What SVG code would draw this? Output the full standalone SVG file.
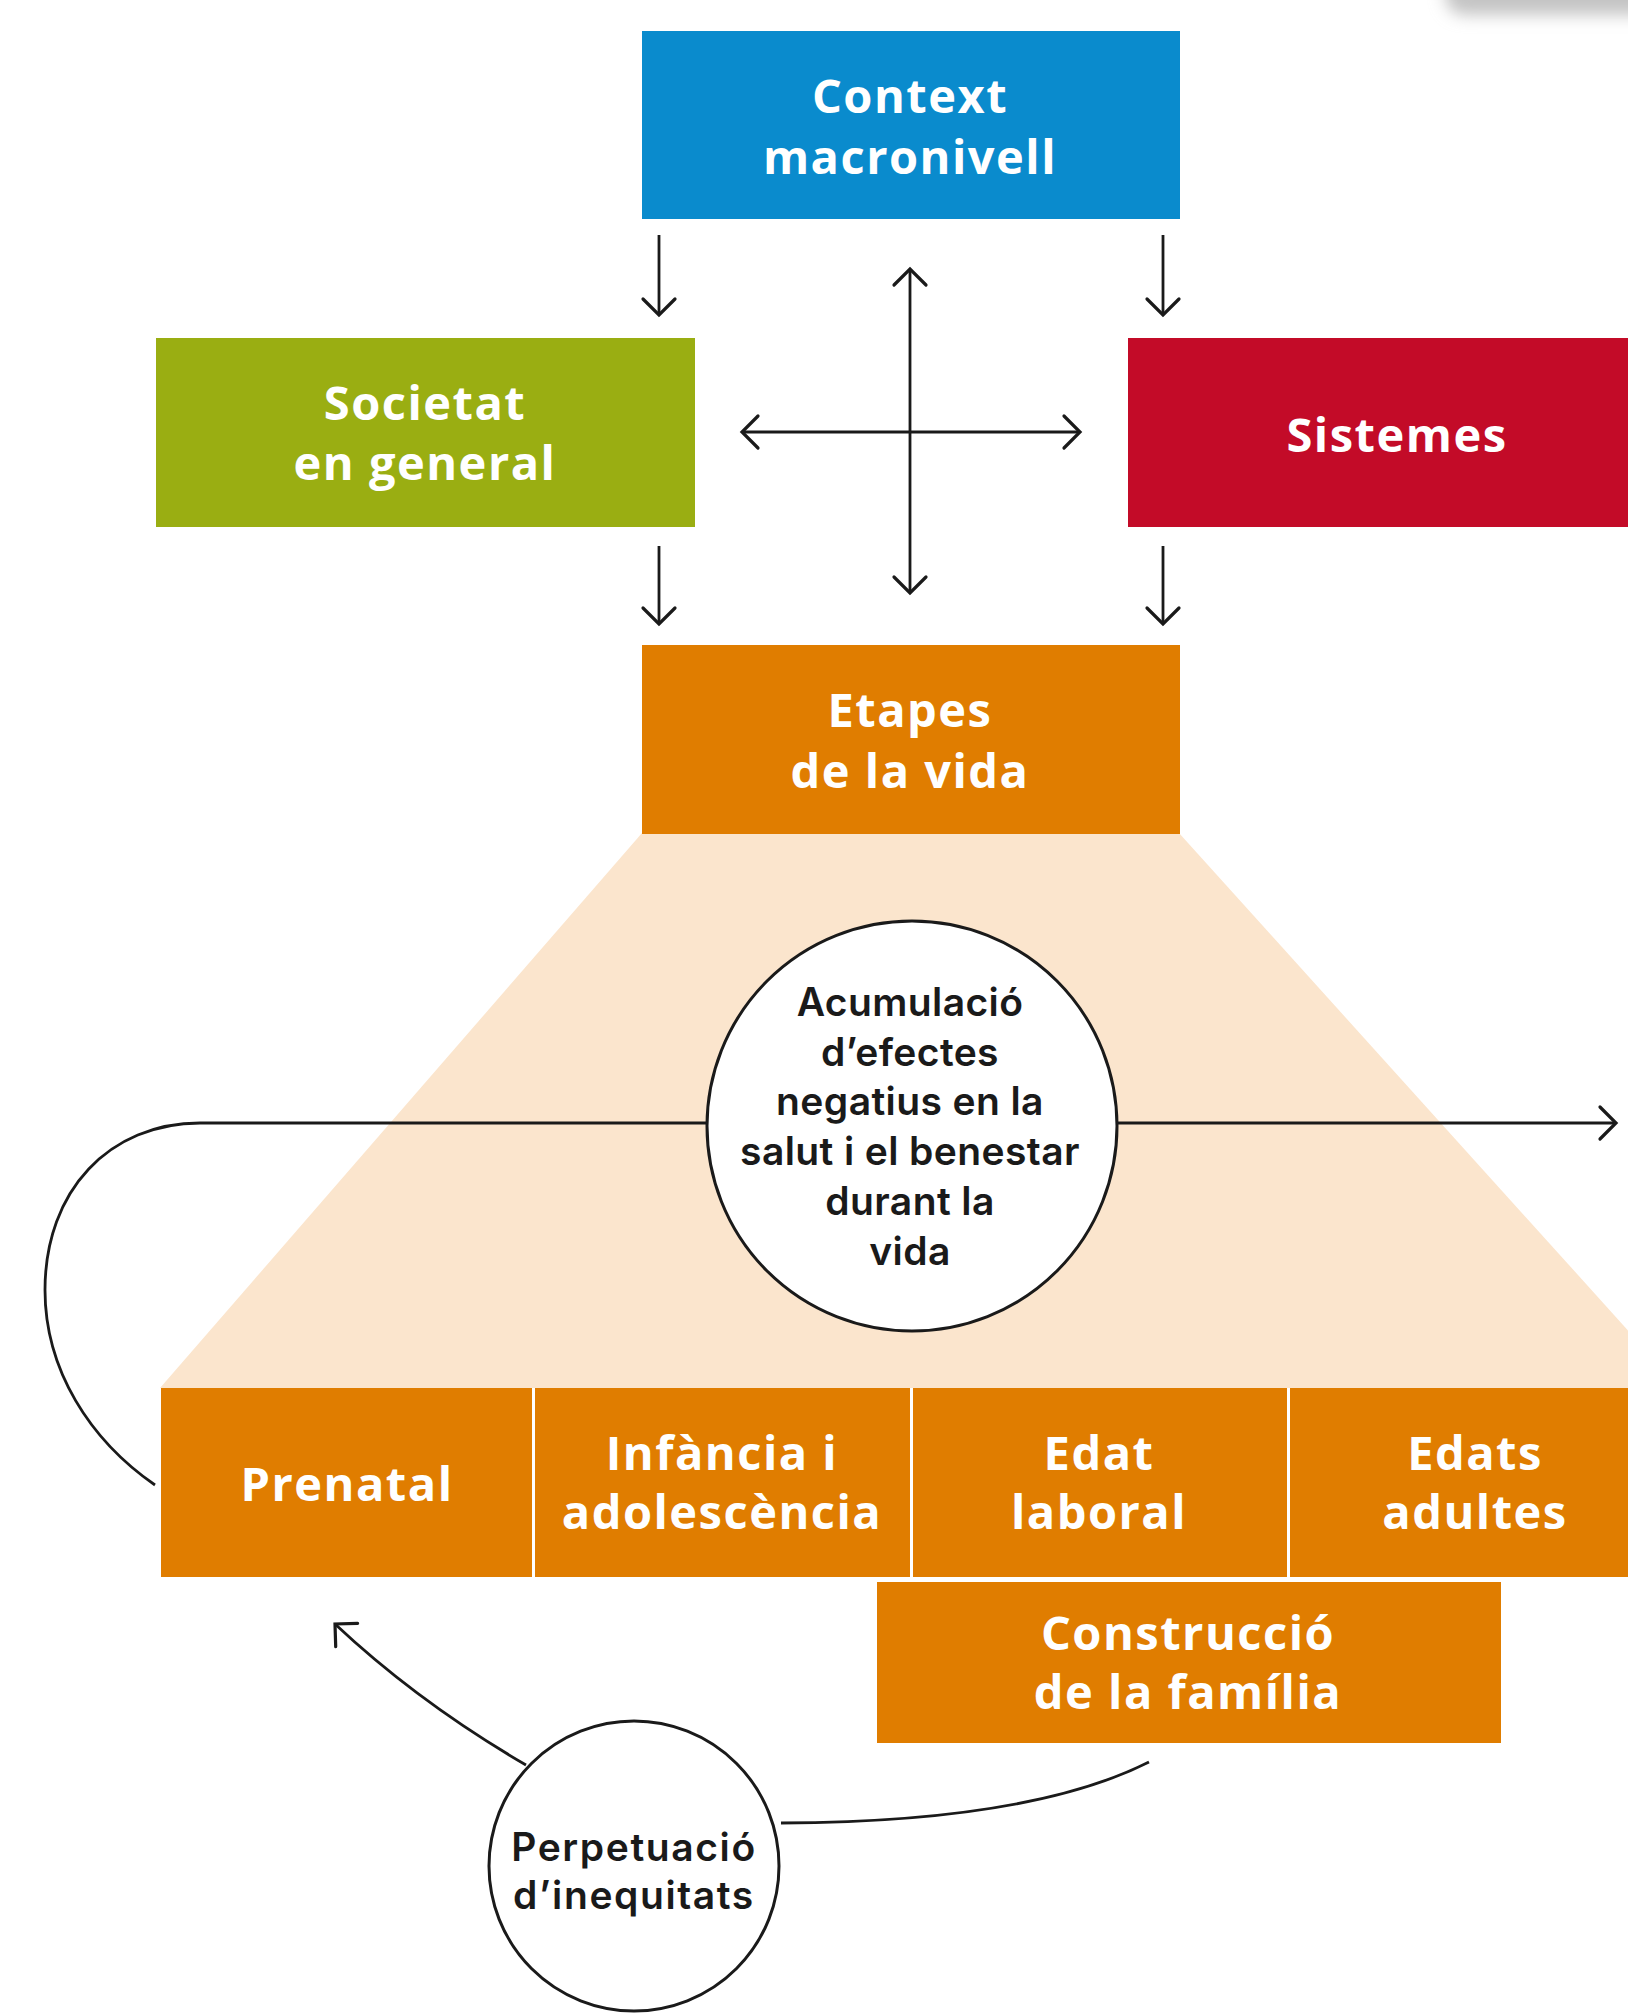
<svg xmlns="http://www.w3.org/2000/svg" width="1628" height="2013" viewBox="0 0 1628 2013">
<style>
.box-t{font-family:"Open Sans","Liberation Sans",sans-serif;font-weight:700;font-size:47px;fill:#ffffff;text-anchor:middle;letter-spacing:1.5px}
.circ-t{font-family:Inter,"Liberation Sans",sans-serif;font-weight:600;font-size:39px;fill:#1a1a1a;text-anchor:middle;letter-spacing:0.4px}
.perp-t{font-family:Inter,"Liberation Sans",sans-serif;font-weight:600;font-size:39px;fill:#1a1a1a;text-anchor:middle;letter-spacing:1.6px}
.conn{fill:none;stroke:#1a1a1a;stroke-width:2.8}
.circ{fill:#ffffff;stroke:#1a1a1a;stroke-width:3}
</style>
<defs>
<marker id="arr" markerUnits="userSpaceOnUse" markerWidth="40" markerHeight="40" refX="0" refY="0" viewBox="-20 -20 40 40" orient="auto-start-reverse">
<path d="M -16 -16 L 0 0 L -16 16" fill="none" stroke="#1a1a1a" stroke-width="3.2" stroke-linecap="round" stroke-linejoin="miter"/>
</marker>
<filter id="blur" x="-50%" y="-50%" width="200%" height="200%"><feGaussianBlur stdDeviation="8"/></filter>
</defs>
<rect width="1628" height="2013" fill="#ffffff"/>
<rect x="1445" y="-40" width="260" height="55" rx="20" fill="#c4c4c4" filter="url(#blur)"/>

<g id="funnel">
<polygon points="642,833 1179,833 1680,1388 160,1388" fill="#fbe5cd"/>
</g>

<g id="context">
<rect x="642" y="31" width="538" height="188" fill="#0a8bcd"/>
<text class="box-t" x="910" y="113">Context</text>
<text class="box-t" x="910" y="174">macronivell</text>
</g>
<g id="societat">
<rect x="156" y="338" width="539" height="189" fill="#9aae12"/>
<text class="box-t" x="425" y="420">Societat</text>
<text class="box-t" x="425" y="480">en general</text>
</g>
<g id="sistemes">
<rect x="1128" y="338" width="520" height="189" fill="#c30b28"/>
<text class="box-t" x="1397" y="452">Sistemes</text>
</g>
<g id="etapes">
<rect x="642" y="645" width="538" height="189" fill="#e07d00"/>
<text class="box-t" x="910" y="727">Etapes</text>
<text class="box-t" x="910" y="788">de la vida</text>
</g>
<g id="prenatal">
<rect x="161" y="1388" width="371" height="189" fill="#e07d00"/>
<text class="box-t" x="347" y="1501">Prenatal</text>
</g>
<g id="infancia">
<rect x="535" y="1388" width="375" height="189" fill="#e07d00"/>
<text class="box-t" x="722" y="1470">Infància i</text>
<text class="box-t" x="722" y="1529">adolescència</text>
</g>
<g id="edat-laboral">
<rect x="913" y="1388" width="374" height="189" fill="#e07d00"/>
<text class="box-t" x="1099" y="1470">Edat</text>
<text class="box-t" x="1099" y="1529">laboral</text>
</g>
<g id="edats-adultes">
<rect x="1290" y="1388" width="360" height="189" fill="#e07d00"/>
<text class="box-t" x="1475" y="1470">Edats</text>
<text class="box-t" x="1475" y="1529">adultes</text>
</g>
<g id="construccio">
<rect x="877" y="1582" width="624" height="161" fill="#e07d00"/>
<text class="box-t" x="1188" y="1650">Construcció</text>
<text class="box-t" x="1188" y="1709">de la família</text>
</g>

<g id="connectors">
<path class="conn" d="M 659 235 V 315" marker-end="url(#arr)"/>
<path class="conn" d="M 1163 235 V 315" marker-end="url(#arr)"/>
<path class="conn" d="M 659 546 V 624" marker-end="url(#arr)"/>
<path class="conn" d="M 1163 546 V 624" marker-end="url(#arr)"/>
<path class="conn" d="M 910 269 V 593" marker-start="url(#arr)" marker-end="url(#arr)"/>
<path class="conn" d="M 742 432 H 1080" marker-start="url(#arr)" marker-end="url(#arr)"/>
<path class="conn" d="M 1117 1123 H 1616" marker-end="url(#arr)"/>
<path class="conn" d="M 707 1123 H 200 C 110 1123 45 1190 45 1290 C 45 1370 90 1440 155 1485"/>
<path class="conn" d="M 1149 1762 Q 1030 1822 781 1823"/>
<path class="conn" d="M 526 1765 Q 418 1702 335 1624" marker-end="url(#arr)"/>
</g>

<g id="acumulacio">
<circle class="circ" cx="912" cy="1126" r="205"/>
<text class="circ-t" x="910" y="1016">Acumulació</text>
<text class="circ-t" x="910" y="1066">d’efectes</text>
<text class="circ-t" x="910" y="1115">negatius en la</text>
<text class="circ-t" x="910" y="1165">salut i el benestar</text>
<text class="circ-t" x="910" y="1215">durant la</text>
<text class="circ-t" x="910" y="1265">vida</text>
</g>
<g id="perpetuacio">
<circle class="circ" cx="634" cy="1866" r="145"/>
<text class="perp-t" x="634" y="1861">Perpetuació</text>
<text class="perp-t" x="634" y="1909">d’inequitats</text>
</g>
</svg>
